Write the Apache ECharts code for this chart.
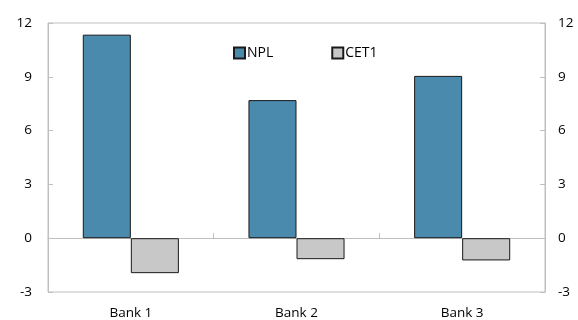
<!DOCTYPE html>
<html>
<head>
<meta charset="utf-8">
<script src="https://cdn.jsdelivr.net/npm/echarts@6/dist/echarts.min.js"></script>
<style>
  html, body { margin: 0; padding: 0; background: #fff; }
  #chart { width: 578px; height: 320px; }
</style>
</head>
<body>
<div id="chart"></div>
<script>
// Bank-level changes: NPL ratio vs CET1 ratio
const categories = ['Bank 1', 'Bank 2', 'Bank 3'];
const nplValues = [11.35, 7.7, 9.05];
const cet1Values = [-1.95, -1.17, -1.24];
const yTicks = { min: -3, max: 12, interval: 3 };

const FONT = 'Open Sans';
const GRID_GREY = '#bfbfbf';
const TEXT = '#000';

const chart = echarts.init(document.getElementById('chart'), null, { renderer: 'canvas' });

const valueAxis = (pos) => ({
  type: 'value',
  position: pos,
  min: yTicks.min,
  max: yTicks.max,
  interval: yTicks.interval,
  axisLine: { show: true, lineStyle: { color: GRID_GREY } },
  axisTick: { show: true, inside: true, length: 5, lineStyle: { color: GRID_GREY } },
  axisLabel: { color: TEXT, fontFamily: FONT, fontSize: 13.5, margin: pos === 'left' ? 16 : 13 },
  splitLine: { show: false }
});

chart.setOption({
  animation: false,
  textStyle: { fontFamily: FONT },
  grid: {
    left: 48, right: 33, top: 23, bottom: 27,
    show: true, borderColor: GRID_GREY, borderWidth: 1
  },
  legend: {
    data: ['NPL', 'CET1'],
    left: 228, top: 41,
    icon: 'rect', itemWidth: 11, itemHeight: 11, itemGap: 58,
    textStyle: { color: TEXT, fontFamily: FONT, fontSize: 14, padding: [0, 0, 0, -3] }
  },
  xAxis: [
    {
      // category labels along the bottom edge
      type: 'category',
      data: categories,
      position: 'bottom',
      axisLine: { show: false, onZero: false },
      axisTick: { show: false },
      axisLabel: { color: TEXT, fontFamily: FONT, fontSize: 13.5, margin: 14 }
    },
    {
      // zero baseline with inward boundary ticks
      type: 'category',
      data: categories,
      position: 'bottom',
      axisLine: { show: true, onZero: true, lineStyle: { color: GRID_GREY } },
      axisTick: { show: true, inside: true, length: 5, lineStyle: { color: GRID_GREY } },
      axisLabel: { show: false }
    }
  ],
  yAxis: [valueAxis('left'), valueAxis('right')],
  series: [
    {
      name: 'NPL', type: 'bar', data: nplValues,
      xAxisIndex: 0, yAxisIndex: 0,
      barGap: '0%', barCategoryGap: '42%',
      itemStyle: { color: '#4a8bad', borderColor: '#1a1a1a', borderWidth: 1 }
    },
    {
      name: 'CET1', type: 'bar', data: cet1Values,
      xAxisIndex: 0, yAxisIndex: 0,
      barGap: '0%', barCategoryGap: '42%',
      itemStyle: { color: '#c8c8c8', borderColor: '#1a1a1a', borderWidth: 1 }
    }
  ]
});
</script>
</body>
</html>
